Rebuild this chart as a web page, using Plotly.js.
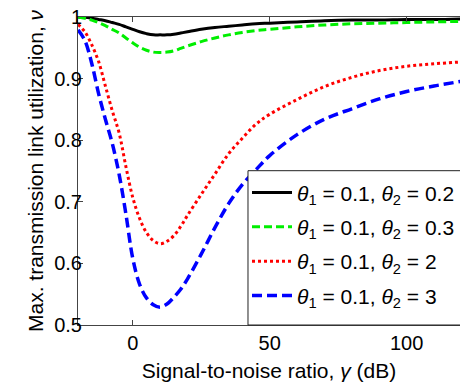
<!DOCTYPE html>
<html>
<head>
<meta charset="utf-8">
<script src="https://cdn.plot.ly/plotly-3.0.1.min.js"></script>
<style>html,body{margin:0;padding:0;overflow:hidden;background:#fff;}</style>
</head>
<body>
<div id="chart" style="width:460px;height:383px;"></div>
<script>
const snr = [-20,-17.5,-15,-12.5,-10,-7.5,-5,-2.5,0,2.5,5,7.5,10,12.5,15,17.5,20,25,30,35,40,45,50,60,70,80,90,100,110,120];
const nu_02 = [1.000,0.9995,0.998,0.996,0.994,0.991,0.988,0.984,0.980,0.976,0.973,0.971,0.971,0.971,0.972,0.974,0.976,0.980,0.983,0.985,0.987,0.989,0.990,0.992,0.994,0.995,0.995,0.996,0.996,0.997];
const nu_03 = [1.000,0.998,0.995,0.991,0.986,0.980,0.974,0.966,0.958,0.951,0.946,0.943,0.9425,0.943,0.945,0.949,0.953,0.960,0.966,0.971,0.975,0.978,0.980,0.984,0.987,0.989,0.990,0.991,0.992,0.993];
const nu_2 = [0.988,0.976,0.955,0.928,0.888,0.848,0.812,0.757,0.707,0.673,0.650,0.637,0.632,0.636,0.645,0.660,0.678,0.712,0.745,0.778,0.803,0.826,0.842,0.866,0.887,0.902,0.913,0.920,0.924,0.927];
const nu_3 = [0.979,0.962,0.925,0.876,0.834,0.795,0.745,0.680,0.608,0.566,0.544,0.533,0.529,0.534,0.545,0.558,0.575,0.615,0.658,0.697,0.728,0.752,0.775,0.809,0.834,0.851,0.867,0.879,0.888,0.8955];
const names = [
  "<i>θ</i><sub>1</sub> = 0.1, <i>θ</i><sub>2</sub> = 0.2",
  "<i>θ</i><sub>1</sub> = 0.1, <i>θ</i><sub>2</sub> = 0.3",
  "<i>θ</i><sub>1</sub> = 0.1, <i>θ</i><sub>2</sub> = 2",
  "<i>θ</i><sub>1</sub> = 0.1, <i>θ</i><sub>2</sub> = 3"
];
const series = [nu_02, nu_03, nu_2, nu_3];
const colors = ["#000000", "#00ee00", "#ff0000", "#0000ff"];
const dashes = ["solid", "8px,4px", "dot", "10px,5px"];
const widths = [3, 3, 3, 3.5];

const traces = series.map((ys, i) => ({
  x: snr, y: ys, type: "scatter", mode: "lines", name: names[i], legendgroup: "g" + i,
  line: {color: colors[i], width: widths[i], dash: dashes[i], shape: "spline", smoothing: 1}
}));

const layout = {
  width: 460, height: 383,
  margin: {l: 78, r: 0, t: 17, b: 58},
  paper_bgcolor: "#fff", plot_bgcolor: "#fff",
  font: {family: "Liberation Sans, Arial, sans-serif", size: 20, color: "#000"},
  showlegend: true,
  legend: {
    x: 1.0, y: 0.028, xanchor: "right", yanchor: "bottom",
    bgcolor: "rgba(0,0,0,0)", borderwidth: 0,
    font: {size: 21, color: "#000"}, tracegroupgap: 4, itemwidth: 40
  },
  shapes: [{
    type: "rect", xref: "paper", yref: "paper", x0: 0.445, x1: 1.05, y0: 0, y1: 0.501,
    fillcolor: "#fff", line: {color: "#222", width: 1}, layer: "above"
  }],
  xaxis: {
    range: [-20, 119.5], tickvals: [0, 50, 100], ticktext: ["0", "50", "100"],
    ticks: "inside", ticklen: 5, tickcolor: "#444", showline: true, linecolor: "#444", linewidth: 1,
    mirror: "ticks", showgrid: false, zeroline: false, tickfont: {size: 20},
    title: {text: "Signal-to-noise ratio, <i>γ</i> (dB)", font: {size: 21}, standoff: 10}
  },
  yaxis: {
    range: [0.5, 1], dtick: 0.1, tick0: 0.5,
    ticks: "inside", ticklen: 5, tickcolor: "#444", showline: true, linecolor: "#444", linewidth: 1,
    mirror: false, showgrid: false, zeroline: false, tickfont: {size: 20}, ticklabelstandoff: -9,
    title: {text: "Max. transmission link utilization, <i>ν</i>", font: {size: 21}, standoff: 4}
  }
};
Plotly.newPlot("chart", traces, layout, {displayModeBar: false, staticPlot: true});
</script>
</body>
</html>
